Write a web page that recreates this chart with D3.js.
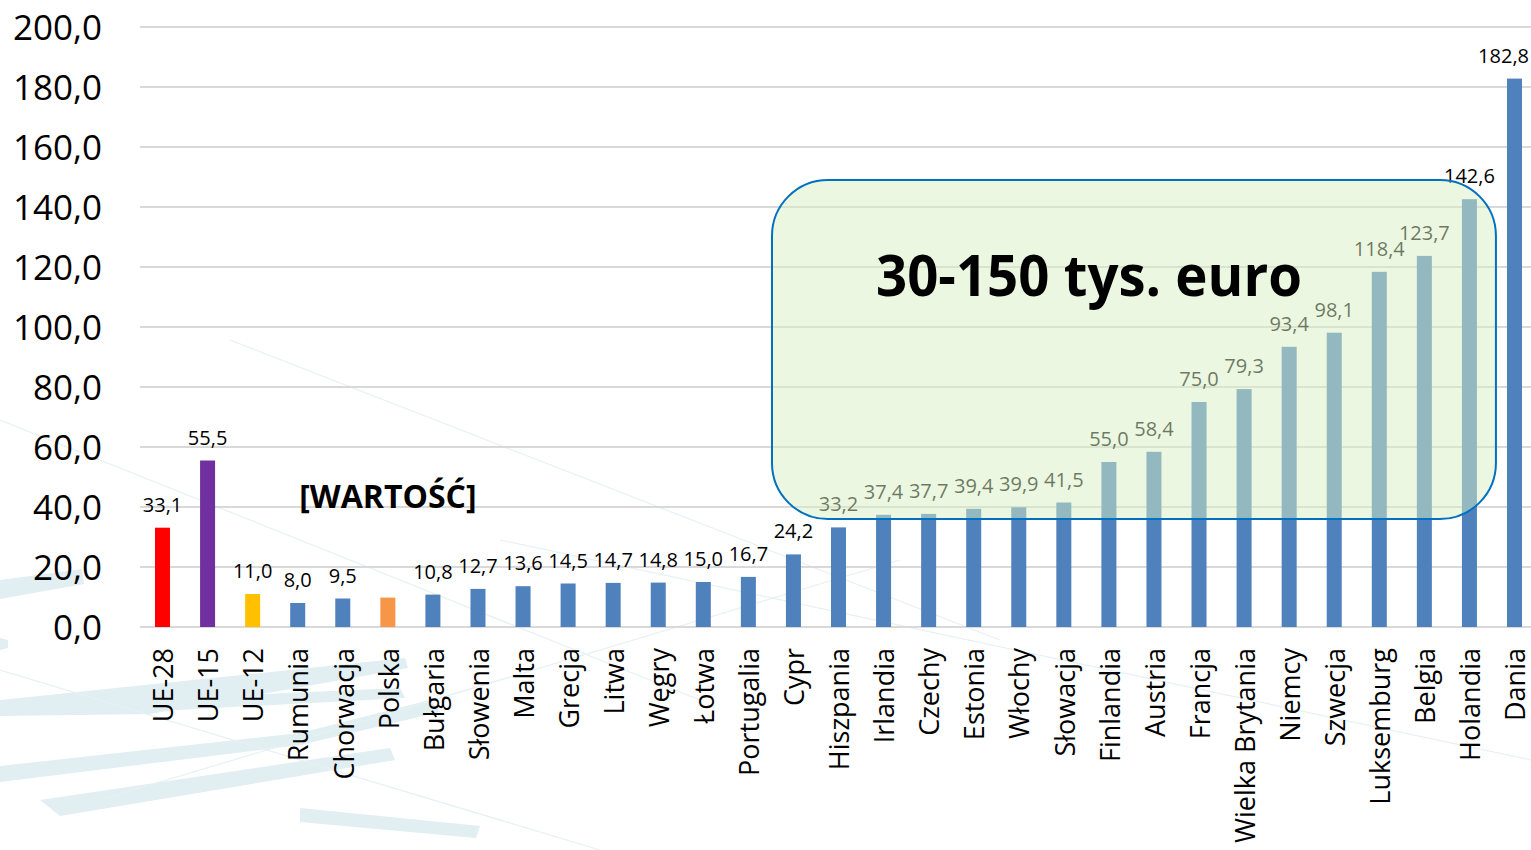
<!DOCTYPE html>
<html>
<head>
<meta charset="utf-8">
<script src="https://cdn.jsdelivr.net/npm/d3@7"></script>
<style>
  html, body { margin: 0; padding: 0; background: #ffffff; }
  svg { display: block; font-family: "Open Sans", "Noto Sans", sans-serif; }
</style>
</head>
<body>
<svg id="chart" width="1531" height="850"></svg>
<script>
const categories = ["UE-28","UE-15","UE-12","Rumunia","Chorwacja","Polska","Bułgaria","Słowenia","Malta","Grecja","Litwa","Węgry","Łotwa","Portugalia","Cypr","Hiszpania","Irlandia","Czechy","Estonia","Włochy","Słowacja","Finlandia","Austria","Francja","Wielka Brytania","Niemcy","Szwecja","Luksemburg","Belgia","Holandia","Dania"];
const values = [33.1,55.5,11.0,8.0,9.5,9.8,10.8,12.7,13.6,14.5,14.7,14.8,15.0,16.7,24.2,33.2,37.4,37.7,39.4,39.9,41.5,55.0,58.4,75.0,79.3,93.4,98.1,118.4,123.7,142.6,182.8];
const barColors = {"UE-28":"#ff0000","UE-15":"#7030a0","UE-12":"#ffc000","Polska":"#f79646"};
const defaultColor = "#4f81bd";
const specialLabels = {"Polska":"[WARTOŚĆ]"};
const yTicks = [0,20,40,60,80,100,120,140,160,180,200];
const annotationText = "30-150 tys. euro";
const annotationRange = [36, 149];

const W = 1531;
const svg = d3.select("#chart");
const fmt = v => d3.format(".1f")(v).replace(".", ",");

const x = d3.scaleBand().domain(categories).range([140, 1537]).paddingInner(0.667).paddingOuter(0.333);
const y = d3.scaleLinear().domain([0, 200]).range([627, 27]);

// faint background watermark
const wm = svg.append("g").attr("fill", "#e1eef2").attr("stroke", "none");
const wmShapes = [
  [[0,580],[82,569],[84,584],[0,599]],
  [[0,638],[8,640],[8,648],[0,650]],
  [[0,700],[405,658],[408,668],[150,714],[0,716]],
  [[0,766],[300,733],[430,700],[440,712],[300,745],[0,782]],
  [[130,700],[400,688],[405,698],[140,712]],
  [[40,800],[390,748],[395,760],[60,816]],
  [[300,808],[480,826],[476,838],[300,822]]
];
wmShapes.forEach(p => wm.append("path").attr("d", d3.line()(p) + "Z"));
const wmLines = [[[230,340],[1000,640]],[[0,420],[700,700]],[[100,800],[900,560]],[[500,540],[1531,760]],[[0,670],[600,850]]];
wmLines.forEach(p => svg.append("path").attr("d", d3.line()(p)).attr("stroke", "#e6f1f4").attr("stroke-width", 1.2).attr("fill", "none"));

// gridlines
svg.append("g").selectAll("line").data(yTicks).join("line")
  .attr("x1", 140).attr("x2", W)
  .attr("y1", d => y(d)).attr("y2", d => y(d))
  .attr("stroke", "#d9d9d9").attr("stroke-width", 2);

// y tick labels
svg.append("g").selectAll("text").data(yTicks).join("text")
  .attr("x", 102).attr("y", d => y(d)).attr("dy", "0.36em")
  .attr("text-anchor", "end").attr("font-size", 35).attr("fill", "#000")
  .text(d => fmt(d));

// bars
svg.append("g").selectAll("rect").data(categories).join("rect")
  .attr("x", d => x(d)).attr("width", x.bandwidth())
  .attr("y", (d, i) => y(values[i])).attr("height", (d, i) => y(0) - y(values[i]))
  .attr("fill", d => barColors[d] || defaultColor);

// value labels
const vl = svg.append("g").selectAll("text").data(categories).join("text")
  .attr("x", d => x(d) + x.bandwidth() / 2)
  .attr("y", (d, i) => specialLabels[d] ? y(values[i]) - 90 : y(values[i]) - 16)
  .attr("text-anchor", "middle")
  .attr("font-size", d => specialLabels[d] ? 32 : 20)
  .attr("font-weight", d => specialLabels[d] ? "bold" : "normal")
  .attr("fill", "#000")
  .text((d, i) => specialLabels[d] || fmt(values[i]));
// keep labels inside the chart area
vl.each(function() {
  const b = this.getBBox();
  if (b.x + b.width > W - 2) {
    d3.select(this).attr("x", +d3.select(this).attr("x") - (b.x + b.width - (W - 2)));
  }
});

// category labels
const cl = svg.append("g").selectAll("text").data(categories).join("text")
  .attr("transform", d => `translate(${x(d) + x.bandwidth() / 2 + 1},648) rotate(-90)`)
  .attr("dy", "0.36em").attr("text-anchor", "end")
  .attr("font-size", 27).attr("fill", "#000")
  .text(d => d);

// annotation box (semi-transparent, over bars)
const bx0 = x("Hiszpania") - 59, bx1 = x("Holandia") + x.bandwidth() + 19;
svg.append("rect")
  .attr("x", bx0).attr("y", y(annotationRange[1]))
  .attr("width", bx1 - bx0).attr("height", y(annotationRange[0]) - y(annotationRange[1]))
  .attr("rx", 56).attr("ry", 56)
  .attr("fill", "rgb(215,239,193)").attr("fill-opacity", 0.5)
  .attr("stroke", "#0070c0").attr("stroke-width", 2);

svg.append("text")
  .attr("x", (bx0 + bx1) / 2 - 45).attr("y", y(110.3))
  .attr("text-anchor", "middle").attr("font-size", 57).attr("font-weight", "bold")
  .attr("textLength", 426).attr("lengthAdjust", "spacingAndGlyphs")
  .attr("fill", "#000").text(annotationText);
</script>
</body>
</html>
